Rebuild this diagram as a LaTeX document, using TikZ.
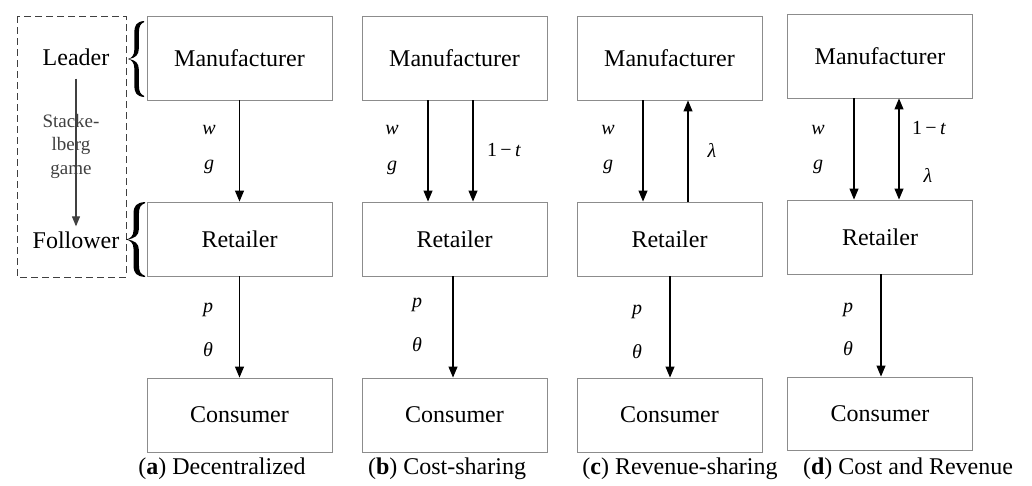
\documentclass[tikz,border=0pt]{standalone}
\usepackage{fontspec}
\setmainfont{Liberation Serif}
\usetikzlibrary{arrows.meta}
\definecolor{boxgray}{gray}{0.55}
\definecolor{leadgray}{gray}{0.25}
\begin{document}
\begin{tikzpicture}[x=1pt,y=-1pt,
  box/.style={draw=boxgray, line width=0.9pt, minimum width=185pt, minimum height=74pt,
    inner sep=0pt, font=\fontsize{24}{28}\selectfont},
  topbox/.style={box, minimum height=84pt},
  flow/.style={line width=1.1pt, -{Triangle[length=11pt,width=9pt]}},
  both/.style={line width=1.1pt, {Triangle[length=11pt,width=9pt]}-{Triangle[length=11pt,width=9pt]}},
  lab/.style={inner sep=0pt, font=\fontsize{20}{24}\selectfont},
  captext/.style={inner sep=0pt, font=\fontsize{24}{28}\selectfont},
  role/.style={inner sep=0pt, font=\fontsize{24}{28}\selectfont}
]
\useasboundingbox (0,0) rectangle (1032,485);

% a curly brace, tip at the origin pointing left, spanning x 0..1 and y -1..1
\def\bracepath{
  (1,1) .. controls (0.55,0.98) and (0.40,0.9) .. (0.40,0.7)
  -- (0.40,0.26) .. controls (0.40,0.08) and (0.2,0.02) .. (0,0)
  .. controls (0.2,-0.02) and (0.40,-0.08) .. (0.40,-0.26)
  -- (0.40,-0.7) .. controls (0.40,-0.9) and (0.55,-0.98) .. (1,-1)
  -- (1,-0.97) .. controls (0.78,-0.93) and (0.68,-0.86) .. (0.68,-0.68)
  -- (0.68,-0.28) .. controls (0.68,-0.1) and (0.45,-0.03) .. (0.06,0)
  .. controls (0.45,0.03) and (0.68,0.1) .. (0.68,0.28)
  -- (0.68,0.68) .. controls (0.68,0.86) and (0.78,0.93) .. (1,0.97) -- cycle}

% --- legend: Stackelberg game roles ---
\draw[leadgray, dash pattern=on 7pt off 4pt, line width=0.9pt] (17,16) rectangle (126,277);
\node[role] (lead) at (76,57) {Leader};
\node[role] (foll) at (76,240) {Follower};
\draw[leadgray, line width=1.1pt, -{Triangle[length=10pt,width=8pt]},
  shorten <=13pt, shorten >=5pt] (lead.south) -- (foll.north);
\node[inner sep=0pt, align=center, text=leadgray,
  font=\fontsize{19}{23.5}\selectfont] (game) at (71,146) {Stacke-\\lberg\\game};
\fill[shift={(128,59)}, x=16pt, y=38pt] \bracepath;
\fill[shift={(126,239.5)}, x=19pt, y=37.5pt] \bracepath;

% --- (a) decentralized ---
\node[topbox] (ma) at (239.5,58) {Manufacturer};
\node[box] (ra) at (239.5,239) {Retailer};
\node[box] (ca) at (239.5,415) {Consumer};
\draw[flow] (ma.south) -- (ra.north);
\draw[flow] (ra.south) -- (ca.north);
\node[lab] (wa) at (209,130) {\textit{w}};
\node[lab] (ga) at (209,167) {\textit{g}};
\node[lab] (pa) at (208,310) {\textit{p}};
\node[lab] (ta) at (208,350) {\textit{θ}};
\node[captext] (capa) at (222,469) {(\textbf{a}) Decentralized};

% --- (b) cost-sharing ---
\node[topbox] (mb) at (454.5,58) {Manufacturer};
\node[box] (rb) at (454.5,239) {Retailer};
\node[box] (cb) at (454.5,415) {Consumer};
\draw[flow] ([xshift=-26.5pt]mb.south) -- ([xshift=-26.5pt]rb.north);
\draw[flow] ([xshift=18.5pt]mb.south) -- ([xshift=18.5pt]rb.north);
\draw[flow] ([xshift=-1.5pt]rb.south) -- ([xshift=-1.5pt]cb.north);
\node[lab] (wb) at (392,130) {\textit{w}};
\node[lab] (gb) at (392,168) {\textit{g}};
\node[lab] (sb) at (504,150) {1\,−\,\textit{t}};
\node[lab] (pb) at (417,305) {\textit{p}};
\node[lab] (tb) at (417,345) {\textit{θ}};
\node[captext] (capb) at (447,469) {(\textbf{b}) Cost-sharing};

% --- (c) revenue-sharing ---
\node[topbox] (mc) at (669.5,58) {Manufacturer};
\node[box] (rc) at (669.5,239) {Retailer};
\node[box] (cc) at (669.5,415) {Consumer};
\draw[flow] ([xshift=-26.5pt]mc.south) -- ([xshift=-26.5pt]rc.north);
\draw[flow] ([xshift=18.5pt]rc.north) -- ([xshift=18.5pt]mc.south);
\draw[flow] ([xshift=0.5pt]rc.south) -- ([xshift=0.5pt]cc.north);
\node[lab] (wc) at (608,130) {\textit{w}};
\node[lab] (gc) at (608,167) {\textit{g}};
\node[lab] (lc) at (712,150) {\textit{λ}};
\node[lab] (pc) at (637,312) {\textit{p}};
\node[lab] (tc) at (637,352) {\textit{θ}};
\node[captext] (capc) at (680,469) {(\textbf{c}) Revenue-sharing};

% --- (d) cost and revenue sharing ---
\node[topbox] (md) at (880,56) {Manufacturer};
\node[box] (rd) at (880,237) {Retailer};
\node[box, minimum height=73pt] (cd) at (880,413.5) {Consumer};
\draw[flow] ([xshift=-26pt]md.south) -- ([xshift=-26pt]rd.north);
\draw[both] ([xshift=19pt]md.south) -- ([xshift=19pt]rd.north);
\draw[flow] ([xshift=1pt]rd.south) -- ([xshift=1pt]cd.north);
\node[lab] (wd) at (818,130) {\textit{w}};
\node[lab] (gd) at (818,167) {\textit{g}};
\node[lab] (sd) at (929,128) {1\,−\,\textit{t}};
\node[lab] (ld) at (928,175) {\textit{λ}};
\node[lab] (pd) at (848,310) {\textit{p}};
\node[lab] (td) at (848,349) {\textit{θ}};
\node[captext] (capd) at (908,469) {(\textbf{d}) Cost and Revenue};
\end{tikzpicture}
\end{document}
